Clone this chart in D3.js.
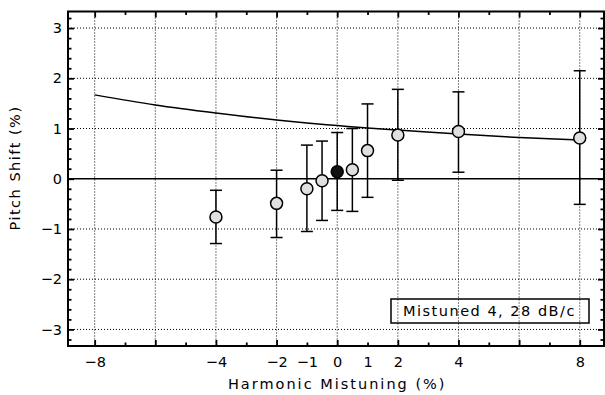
<!DOCTYPE html>
<html><head><meta charset="utf-8">
<script src="https://cdn.jsdelivr.net/npm/d3@7"></script>
<style>
html,body{margin:0;padding:0;background:#fff;}
text{font-family:"DejaVu Sans",sans-serif;fill:#000;}
</style></head>
<body>
<svg id="c" width="605" height="395"></svg>
<script>
// data
const mistuning = [-4, -2, -1, -0.5, 0, 0.5, 1, 2, 4, 8];
const pitchShift = [-0.76, -0.49, -0.20, -0.04, 0.14, 0.18, 0.56, 0.87, 0.94, 0.81];
const errHigh = [-0.23, 0.17, 0.67, 0.75, 0.92, 1.00, 1.49, 1.78, 1.73, 2.15];
const errLow = [-1.29, -1.17, -1.05, -0.83, -0.63, -0.65, -0.37, -0.03, 0.13, -0.51];
const filledIndex = [4];
const curveX = [-8, -6, -4, -2, -1, 0, 1, 2, 4, 6, 8];
const curveY = [1.67, 1.47, 1.31, 1.17, 1.11, 1.06, 1.01, 0.97, 0.89, 0.82, 0.77];
const xTickLabels = [-8, -4, -2, -1, 0, 1, 2, 4, 8];
const xMajor = [-8, -6, -4, -2, 0, 2, 4, 6, 8];
const xMinor = [-7, -5, -3, -1, 1, 3, 5, 7];
const yMajor = [-3, -2, -1, 0, 1, 2, 3];
const yMinor = [-3.2,-2.8,-2.6,-2.4,-2.2,-1.8,-1.6,-1.4,-1.2,-0.8,-0.6,-0.4,-0.2,0.2,0.4,0.6,0.8,1.2,1.4,1.6,1.8,2.2,2.4,2.6,2.8,3.2];
const legendText = "Mistuned 4, 28 dB/c";

const L = 68, R = 604, T = 11.5, B = 346;
const svg = d3.select("#c");
const x = d3.scaleLinear().domain([-8.88, 8.8]).range([L, R]);
const y = d3.scaleLinear().domain([-3.33, 3.33]).range([B, T]);
const fmt = d => d3.format("")(d);

// grid
const grid = svg.append("g").attr("stroke", "#000").attr("stroke-width", 1).attr("stroke-dasharray", "1,2");
grid.selectAll("line.v").data(xMajor).join("line")
  .attr("x1", d => x(d)).attr("x2", d => x(d)).attr("y1", T).attr("y2", B);
grid.selectAll("line.h").data(yMajor.filter(d => d !== 0)).join("line")
  .attr("y1", d => y(d)).attr("y2", d => y(d)).attr("x1", L).attr("x2", R);
svg.append("line").attr("x1", L).attr("x2", R).attr("y1", y(0)).attr("y2", y(0))
  .attr("stroke", "#000").attr("stroke-width", 1.5);

// ticks (inward)
function tickAxis(axis, vals, size, tx, ty) {
  const g = svg.append("g").attr("transform", `translate(${tx},${ty})`)
    .call(axis.tickValues(vals).tickSize(size).tickFormat(""));
  g.select(".domain").remove();
  g.selectAll(".tick line").attr("stroke", "#000").attr("stroke-width", 1.8);
}
tickAxis(d3.axisBottom(x), xMajor, -6, 0, B);
tickAxis(d3.axisBottom(x), xMinor, -3.5, 0, B);
tickAxis(d3.axisTop(x), xMajor, -6, 0, T);
tickAxis(d3.axisTop(x), xMinor, -3.5, 0, T);
tickAxis(d3.axisLeft(y), yMajor, -6, L, 0);
tickAxis(d3.axisLeft(y), yMinor, -3.5, L, 0);
tickAxis(d3.axisRight(y), yMajor, -6, R, 0);
tickAxis(d3.axisRight(y), yMinor, -3.5, R, 0);

// labels
const xl = svg.append("g").attr("transform", `translate(0,${B})`)
  .call(d3.axisBottom(x).tickValues(xTickLabels).tickSize(0).tickPadding(11).tickFormat(fmt));
xl.select(".domain").remove();
xl.selectAll("text").style("font-size", "14.5px").attr("fill", "#000").style("font-family", "DejaVu Sans");
const yl = svg.append("g").attr("transform", `translate(${L},0)`)
  .call(d3.axisLeft(y).tickValues(yMajor).tickSize(0).tickPadding(6).tickFormat(fmt));
yl.select(".domain").remove();
yl.selectAll("text").style("font-size", "14.5px").attr("fill", "#000").style("font-family", "DejaVu Sans");

// frame
svg.append("rect").attr("x", L).attr("y", T).attr("width", R - L).attr("height", B - T)
  .attr("fill", "none").attr("stroke", "#000").attr("stroke-width", 2);

// curve
const line = d3.line().x((d, i) => x(curveX[i])).y(d => y(d)).curve(d3.curveMonotoneX);
svg.append("path").attr("d", line(curveY)).attr("fill", "none").attr("stroke", "#000").attr("stroke-width", 1.5);

// error bars
const eb = svg.append("g").attr("stroke", "#000").attr("stroke-width", 1.5);
mistuning.forEach((m, i) => {
  eb.append("line").attr("x1", x(m)).attr("x2", x(m)).attr("y1", y(errHigh[i])).attr("y2", y(errLow[i]));
  eb.append("line").attr("x1", x(m) - 6).attr("x2", x(m) + 6).attr("y1", y(errHigh[i])).attr("y2", y(errHigh[i]));
  eb.append("line").attr("x1", x(m) - 6).attr("x2", x(m) + 6).attr("y1", y(errLow[i])).attr("y2", y(errLow[i]));
});
svg.append("g").selectAll("circle").data(mistuning).join("circle")
  .attr("cx", d => x(d)).attr("cy", (d, i) => y(pitchShift[i])).attr("r", 6)
  .attr("fill", (d, i) => filledIndex.includes(i) ? "#111" : "#e0e0e0")
  .attr("stroke", "#000").attr("stroke-width", 1.5);

// legend
svg.append("rect").attr("x", 391).attr("y", 299).attr("width", 198).attr("height", 24)
  .attr("fill", "none").attr("stroke", "#000").attr("stroke-width", 1.5);
svg.append("text").attr("x", 403).attr("y", 316).style("font-size", "14.5px")
  .style("letter-spacing", "1.5px").text(legendText);

// axis titles
svg.append("text").attr("x", x(0)).attr("y", 389).attr("text-anchor", "middle")
  .style("font-size", "14.5px").style("letter-spacing", "2px").text("Harmonic Mistuning (%)");
svg.append("text").attr("transform", "translate(20,168) rotate(-90)").attr("text-anchor", "middle")
  .style("font-size", "14.5px").style("letter-spacing", "1.5px").text("Pitch Shift (%)");
</script>
</body></html>
